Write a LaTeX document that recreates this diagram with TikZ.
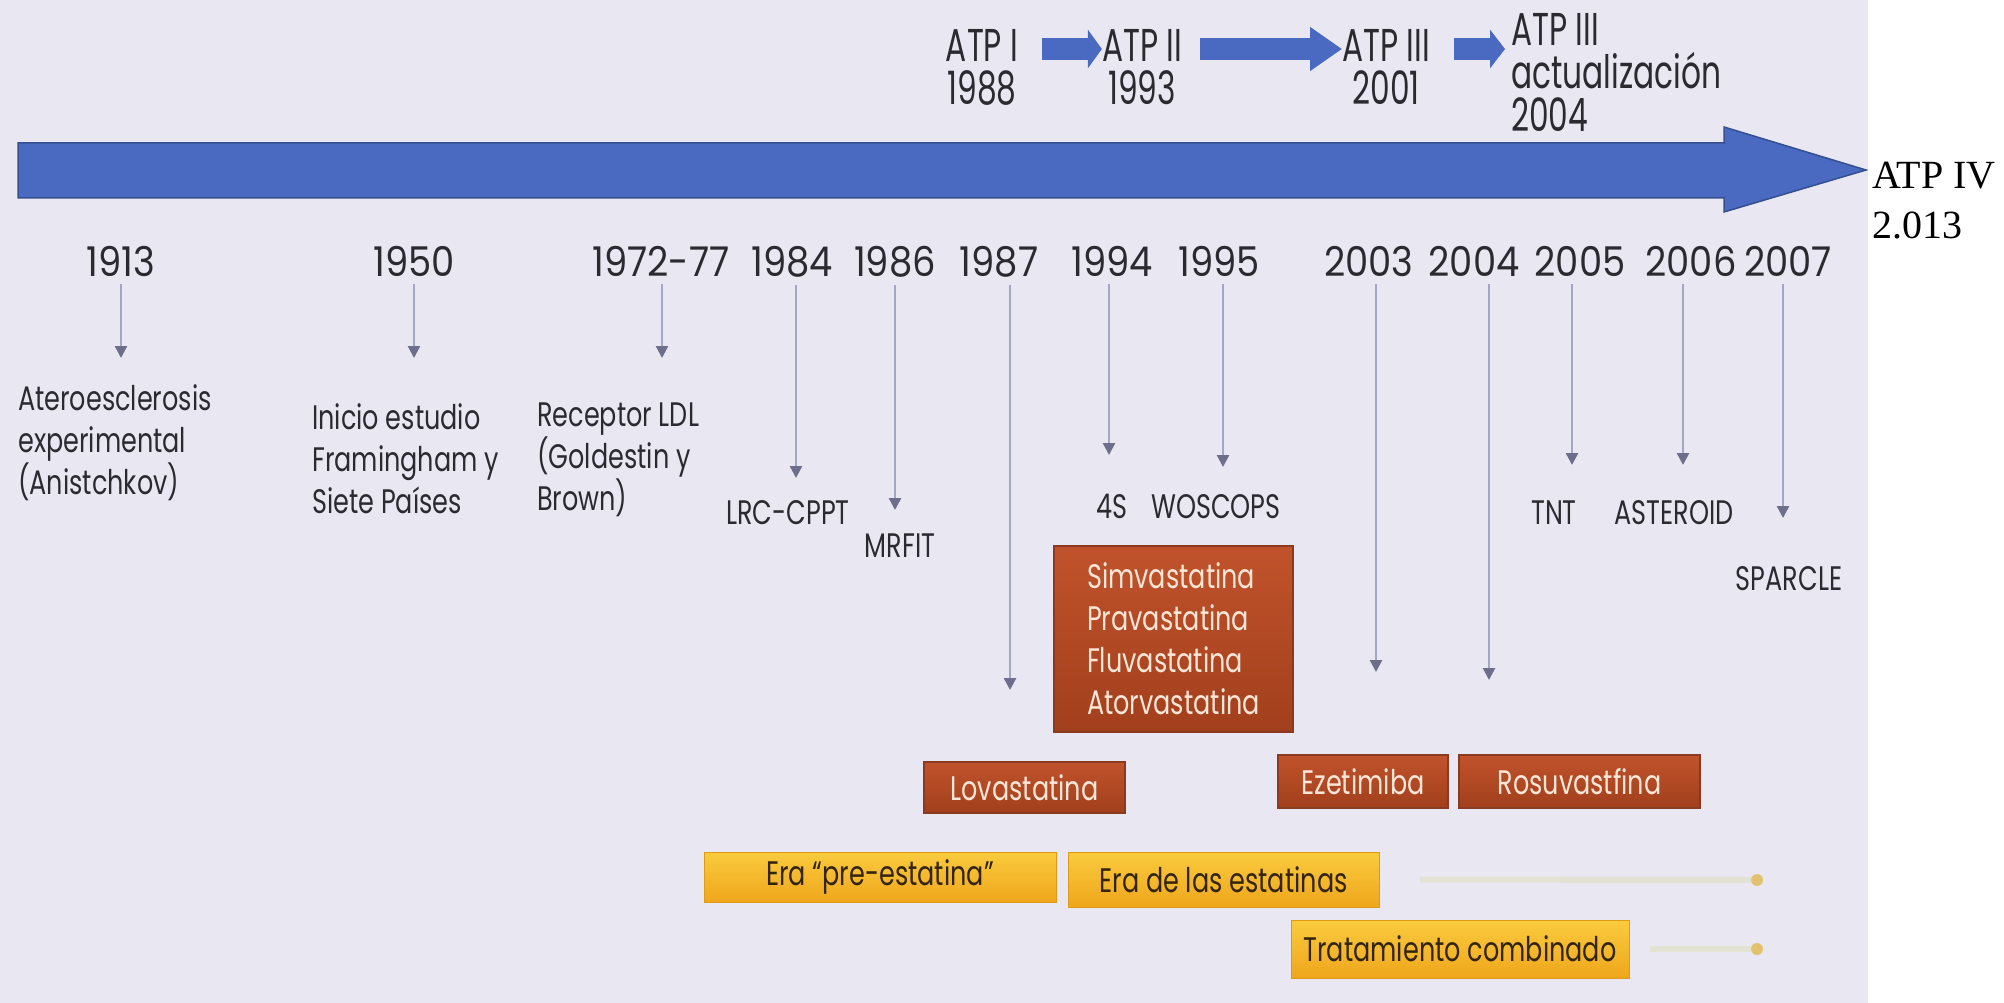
\documentclass[tikz,border=0pt]{standalone}
\usepackage{fontspec}
\usetikzlibrary{arrows.meta,calc}
\newfontfamily\cond{Poppins}[FakeStretch=0.75]
\newfontfamily\topf{Poppins}[FakeStretch=0.68]
\newfontfamily\yrf{Poppins}[FakeStretch=0.9, Numbers=Monospaced]
\newfontfamily\tms{Liberation Serif}
\definecolor{bg}{HTML}{E9E8F2}
\definecolor{txt}{HTML}{2B2A30}
\definecolor{mainblue}{HTML}{4A69C0}
\definecolor{mainedge}{HTML}{34508F}
\definecolor{vline}{HTML}{A3A6C6}
\definecolor{vhead}{HTML}{6C6E8C}
\definecolor{rustA}{HTML}{C0532C}
\definecolor{rustB}{HTML}{A23F1C}
\definecolor{rustE}{HTML}{8A3A20}
\definecolor{goldA}{HTML}{FACB3E}
\definecolor{goldB}{HTML}{EFA61C}
\definecolor{goldE}{HTML}{E09A18}
\definecolor{boxtxt}{HTML}{FBE6D8}
\definecolor{goldtxt}{HTML}{33240E}
\definecolor{faint}{HTML}{E4E2D2}
\definecolor{dotc}{HTML}{E2C26E}
\tikzset{
  year/.style={anchor=base, inner sep=0pt, text=txt, font=\yrf\fontsize{41}{45}\selectfont},
  lab/.style={inner sep=0pt, text=txt, align=left, font=\cond\fontsize{34}{42}\selectfont},
  slab/.style={anchor=base, inner sep=0pt, text=txt, font=\cond\fontsize{34}{42}\selectfont},
  atp/.style={inner sep=0pt, text=txt, align=center, font=\topf\fontsize{46}{43}\selectfont},
  varrow/.style={draw=vline, line width=2.5pt, shorten <=8pt, -{Triangle[length=12pt,width=12pt,color=vhead]}},
  toparr/.style={draw=mainblue, line width=22pt},
  rustbox/.style={draw=rustE, line width=1.5pt, top color=rustA, bottom color=rustB, text=boxtxt, inner sep=0pt, font=\cond\fontsize{34}{42}\selectfont},
  goldbox/.style={draw=goldE, line width=1pt, top color=goldA, bottom color=goldB, text=goldtxt, inner sep=0pt, font=\cond\fontsize{34}{42}\selectfont},
  faintline/.style={draw=faint, line width=6pt}
}
\begin{document}
\begin{tikzpicture}[x=1pt,y=-1pt]
\useasboundingbox (0,0) rectangle (2004,1003);
\fill[white] (0,0) rectangle (2004,1003);
\fill[bg] (0,0) rectangle (1868,1003);

% main timeline arrow
\filldraw[fill=mainblue, draw=mainedge, line width=1.5pt]
  (18,143) -- (1724,143) -- (1724,127) -- (1866,170) -- (1724,212) -- (1724,198) -- (18,198) -- cycle;

% ATP IV
\node[anchor=north west, inner sep=0pt, align=left, font=\tms\fontsize{40}{50}\selectfont] (atpiv) at (1872,162) {ATP IV\\2.013};

% top ATP sequence
\node[atp, anchor=north] (atp1) at (982,29) {ATP I\\1988};
\node[atp, anchor=north] (atp2) at (1142,29) {ATP II\\1993};
\node[atp, anchor=north] (atp3) at (1386,29) {ATP III\\2001};
\node[atp, anchor=north west, align=left] (atp4) at (1511,13) {ATP III\\actualización\\2004};
\path ([yshift=-20pt]atp1.north east) coordinate (a1s);
\path ([yshift=-20pt]atp2.north east) coordinate (a2s);
\path ([yshift=-20pt]atp3.north east) coordinate (a3s);
\draw[toparr, shorten <=24pt, -{Triangle[length=14pt,width=38pt]}] (a1s) -- (a1s -| atp2.west);
\draw[toparr, shorten <=18pt, -{Triangle[length=32pt,width=42pt]}] (a2s) -- (a2s -| atp3.west);
\draw[toparr, shorten <=24pt, shorten >=6pt, -{Triangle[length=15pt,width=38pt]}] (a3s) -- (a3s -| atp4.west);

% years
\node[year] (y1913) at (121,276) {1913};
\node[year] (y1950) at (414,276) {1950};
\node[year] (y1972) at (661,276) {1972-77};
\node[year] (y1984) at (792,276) {1984};
\node[year] (y1986) at (895,276) {1986};
\node[year] (y1987) at (999,276) {1987};
\node[year] (y1994) at (1112,276) {1994};
\node[year] (y1995) at (1219,276) {1995};
\node[year] (y2003) at (1369,276) {2003};
\node[year] (y2004) at (1474,276) {2004};
\node[year] (y2005) at (1580,276) {2005};
\node[year] (y2006) at (1691,276) {2006};
\node[year] (y2007) at (1788,276) {2007};

\foreach \n/\x/\y in {1913/121/358, 1950/414/358, 1972/662/358, 1984/796/478, 1986/895/510, 1987/1010/690, 1994/1109/455, 1995/1223/467, 2003/1376/672, 2004/1489/680, 2005/1572/465, 2006/1683/465, 2007/1783/518}{
  \coordinate (t\n) at (\x,\y);
  \draw[varrow] (y\n.south -| t\n) -- (t\n);
}

% labels
\node[lab, anchor=north west] (l1913) at (18,384) {Ateroesclerosis\\experimental\\(Anistchkov)};
\node[lab, anchor=north west] (l1950) at (312,403) {Inicio estudio\\Framingham y\\Siete Países};
\node[lab, anchor=north west] (l1972) at (537,403) {Receptor LDL\\(Goldestin y\\Brown)};
\node[slab] (l1984) at (788,524) {LRC-CPPT};
\node[slab] (l1986) at (900,557) {MRFIT};
\node[slab] (l1994) at (1112,518) {4S};
\node[slab] (l1995) at (1216,518) {WOSCOPS};
\node[slab] (l2005) at (1554,524) {TNT};
\node[slab] (l2006) at (1674,524) {ASTEROID};
\node[slab] (l2007) at (1789,590) {SPARCLE};

% drug boxes
\node[rustbox, minimum width=239pt, minimum height=186pt, align=left] (simva) at (1173.5,639) {Simvastatina\\Pravastatina\\Fluvastatina\\Atorvastatina};
\node[rustbox, minimum width=201pt, minimum height=51pt] (lova) at (1024.5,787.5) {Lovastatina};
\node[rustbox, minimum width=170pt, minimum height=53pt] (ezet) at (1363,781.5) {Ezetimiba};
\node[rustbox, minimum width=241pt, minimum height=53pt] (rosu) at (1579.5,781.5) {Rosuvastfina};

% era boxes
\node[goldbox, minimum width=352pt, minimum height=50pt] (prest) at (880,877) {Era “pre-estatina”};
\node[goldbox, minimum width=311pt, minimum height=55pt] (eraest) at (1223.5,879.5) {Era de las estatinas};
\node[goldbox, minimum width=338pt, minimum height=58pt] (tratc) at (1460,949) {Tratamiento combinado};

\coordinate (d1) at (1757,880);
\coordinate (d2) at (1757,949);
\draw[faintline, shorten <=40pt, shorten >=6pt] (eraest.east) -- (d1);
\draw[faintline, shorten <=20pt, shorten >=6pt] (tratc.east) -- (d2);
\fill[dotc] (d1) circle (6pt);
\fill[dotc] (d2) circle (6pt);
\end{tikzpicture}
\end{document}
